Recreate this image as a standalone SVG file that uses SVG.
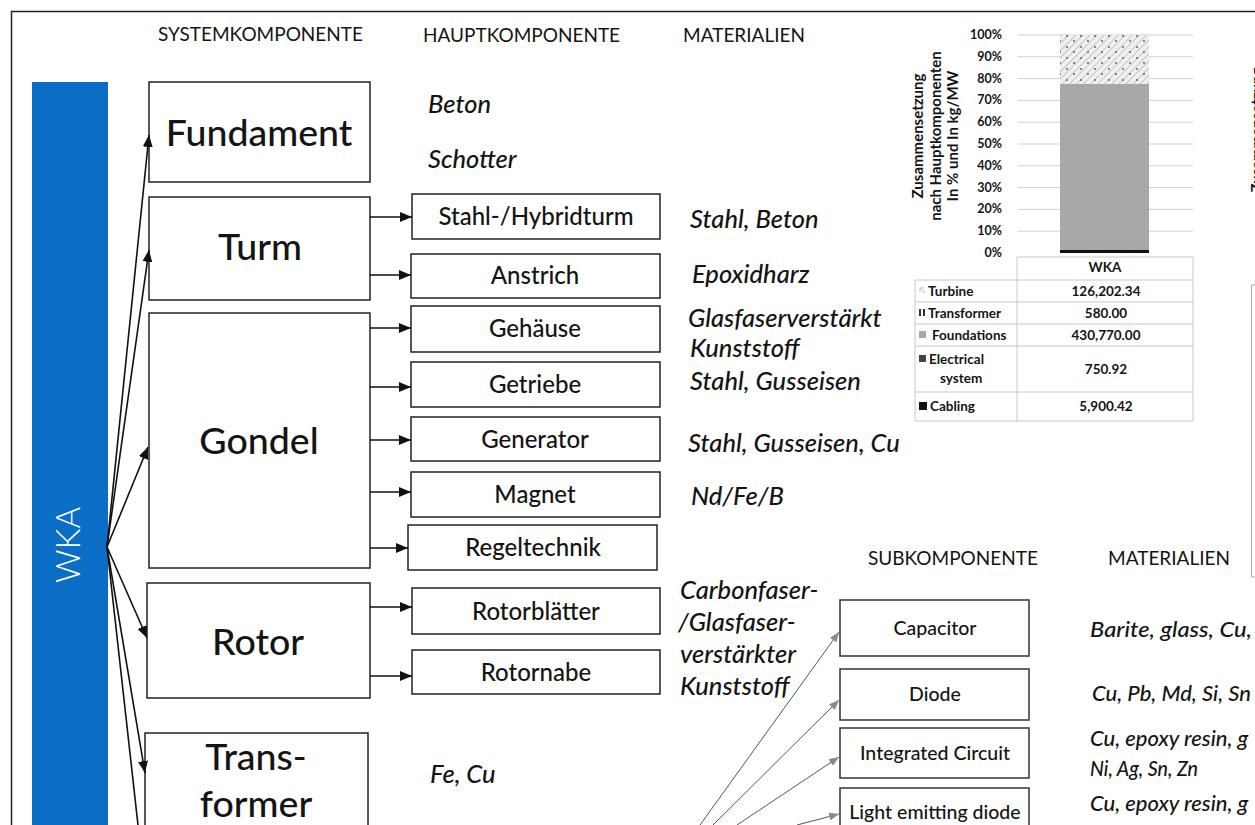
<svg xmlns="http://www.w3.org/2000/svg" width="1255" height="825" viewBox="0 0 1255 825">
<style>
text{font-family:Lato,"Open Sans","Liberation Sans",sans-serif;fill:#141414}
.hdr{font-size:19px}
.sys{font-size:37.5px;font-weight:500;text-anchor:middle}
.hk{font-size:24px;font-weight:500;text-anchor:middle}
.mat{font-size:25.5px;font-weight:500;font-style:italic}
.sub{font-size:19.5px;font-weight:500;text-anchor:middle}
.smat{font-size:22px;font-weight:500;font-style:italic}
.ax{font-size:12.5px;font-weight:700;text-anchor:end}
.tt{font-size:15px;font-weight:700;text-anchor:middle}
.tb{font-size:13.5px;font-weight:700}
.tv{font-size:13.5px;font-weight:700;text-anchor:middle}
.box{fill:#fff;stroke:#222;stroke-width:1.5}
.sbox{fill:#fff;stroke:#333;stroke-width:1.5}
.conn{stroke:#111;stroke-width:1.6;fill:none}
.gconn{stroke:#555;stroke-width:1;fill:none}
.grid{stroke:#cfcfcf;stroke-width:1}
.tbl{stroke:#c8c8c8;stroke-width:1;fill:none}
</style>
<defs>
<marker id="ah" viewBox="0 0 12 10" refX="12" refY="5" markerWidth="12" markerHeight="10" markerUnits="userSpaceOnUse" orient="auto"><path d="M0,0 L12,5 L0,10 z" fill="#111"/></marker>
<marker id="gah" viewBox="0 0 10 8" refX="10" refY="4" markerWidth="10" markerHeight="8" markerUnits="userSpaceOnUse" orient="auto"><path d="M0,0 L10,4 L0,8 z" fill="#8a8a8a"/></marker>
<pattern id="hatch" width="5" height="5" patternUnits="userSpaceOnUse" patternTransform="rotate(45)"><rect width="5" height="5" fill="#f0f0f0"/><line x1="0" y1="0" x2="0" y2="5" stroke="#b5b5b5" stroke-width="1.5"/></pattern>
<pattern id="dots" width="14" height="11" patternUnits="userSpaceOnUse"><circle cx="3" cy="3" r="0.9" fill="#555"/><circle cx="10" cy="8" r="0.9" fill="#555"/></pattern>
</defs>
<rect width="1255" height="825" fill="#fff"/>
<path d="M11.5,825 V11.5 H1255" fill="none" stroke="#222" stroke-width="1.5"/>

<g id="headers">
<text class="hdr" x="158" y="41">SYSTEMKOMPONENTE</text>
<text class="hdr" x="423" y="42">HAUPTKOMPONENTE</text>
<text class="hdr" x="683" y="42">MATERIALIEN</text>
<text class="hdr" x="868" y="565">SUBKOMPONENTE</text>
<text class="hdr" x="1108" y="565">MATERIALIEN</text>
</g>

<g id="wka">
<rect x="32" y="82" width="76" height="743" fill="#0a6ec6"/>
<text transform="translate(80,545) rotate(-90)" style="font-size:33px;font-weight:300;fill:#fff;text-anchor:middle">WKA</text>
</g>

<g id="fundament"><rect class="box" x="149" y="82" width="221" height="100"/><text class="sys" x="259" y="146">Fundament</text></g>
<g id="turm"><rect class="box" x="149" y="197" width="221" height="103"/><text class="sys" x="260" y="260">Turm</text></g>
<g id="gondel"><rect class="box" x="149" y="313" width="221" height="255"/><text class="sys" x="259" y="454">Gondel</text></g>
<g id="rotor"><rect class="box" x="147" y="583" width="223" height="115"/><text class="sys" x="258" y="655">Rotor</text></g>
<g id="transformer"><rect class="box" x="145" y="733" width="223" height="100"/><text class="sys" x="256" y="770">Trans-</text><text class="sys" x="256" y="817">former</text></g>

<g id="stahlturm"><rect class="box" x="412" y="194" width="248" height="45"/><text class="hk" x="536" y="225">Stahl-/Hybridturm</text></g>
<g id="anstrich"><rect class="box" x="411" y="254" width="249" height="44"/><text class="hk" x="535" y="284">Anstrich</text></g>
<g id="gehaeuse"><rect class="box" x="411" y="306" width="249" height="46"/><text class="hk" x="535" y="337">Gehäuse</text></g>
<g id="getriebe"><rect class="box" x="411" y="362" width="249" height="45"/><text class="hk" x="535" y="393">Getriebe</text></g>
<g id="generator"><rect class="box" x="411" y="417" width="249" height="44"/><text class="hk" x="535" y="448">Generator</text></g>
<g id="magnet"><rect class="box" x="411" y="472" width="249" height="45"/><text class="hk" x="535" y="503">Magnet</text></g>
<g id="regeltechnik"><rect class="box" x="408" y="525" width="249" height="45"/><text class="hk" x="533" y="556">Regeltechnik</text></g>
<g id="rotorblaetter"><rect class="box" x="412" y="588" width="248" height="46"/><text class="hk" x="536" y="620">Rotorblätter</text></g>
<g id="rotornabe"><rect class="box" x="412" y="650" width="248" height="44"/><text class="hk" x="536" y="681">Rotornabe</text></g>

<g id="materials">
<text class="mat" x="428" y="113">Beton</text>
<text class="mat" x="428" y="168">Schotter</text>
<text class="mat" x="690" y="228">Stahl, Beton</text>
<text class="mat" x="692" y="283">Epoxidharz</text>
<text class="mat" x="688" y="327">Glasfaserverstärkt</text>
<text class="mat" x="690" y="357">Kunststoff</text>
<text class="mat" x="690" y="390">Stahl, Gusseisen</text>
<text class="mat" x="688" y="452">Stahl, Gusseisen, Cu</text>
<text class="mat" x="691" y="505">Nd/Fe/B</text>
<text class="mat" x="680" y="599">Carbonfaser-</text>
<text class="mat" x="678" y="631">/Glasfaser-</text>
<text class="mat" x="680" y="663">verstärkter</text>
<text class="mat" x="680" y="695">Kunststoff</text>
<text class="mat" x="430" y="783">Fe, Cu</text>
</g>

<g id="capacitor"><rect class="sbox" x="840" y="600" width="189" height="56"/><text class="sub" x="935" y="635">Capacitor</text></g>
<g id="diode"><rect class="sbox" x="840" y="669" width="189" height="51"/><text class="sub" x="935" y="701">Diode</text></g>
<g id="ic"><rect class="sbox" x="840" y="728" width="189" height="50"/><text class="sub" x="935" y="760">Integrated Circuit</text></g>
<g id="led"><rect class="sbox" x="840" y="788" width="189" height="50"/><text class="sub" x="935" y="819">Light emitting diode</text></g>

<g id="submaterials">
<text class="smat" x="1090" y="637" textLength="162" lengthAdjust="spacingAndGlyphs">Barite, glass, Cu,</text>
<text class="smat" x="1092" y="701">Cu, Pb, Md, Si, Sn</text>
<text class="smat" x="1090" y="746">Cu, epoxy resin, g</text>
<text class="smat" x="1090" y="776" textLength="108" lengthAdjust="spacingAndGlyphs">Ni, Ag, Sn, Zn</text>
<text class="smat" x="1090" y="811">Cu, epoxy resin, g</text>
</g>

<g id="chart">
<g class="grid">
<line x1="1018" y1="35" x2="1193" y2="35"/><line x1="1018" y1="56.8" x2="1193" y2="56.8"/><line x1="1018" y1="78.6" x2="1193" y2="78.6"/><line x1="1018" y1="100.4" x2="1193" y2="100.4"/><line x1="1018" y1="122.2" x2="1193" y2="122.2"/><line x1="1018" y1="144" x2="1193" y2="144"/><line x1="1018" y1="165.8" x2="1193" y2="165.8"/><line x1="1018" y1="187.6" x2="1193" y2="187.6"/><line x1="1018" y1="209.4" x2="1193" y2="209.4"/><line x1="1018" y1="231.2" x2="1193" y2="231.2"/>
</g>
<text class="ax" x="1002" y="39">100%</text>
<text class="ax" x="1002" y="61">90%</text>
<text class="ax" x="1002" y="83">80%</text>
<text class="ax" x="1002" y="104">70%</text>
<text class="ax" x="1002" y="126">60%</text>
<text class="ax" x="1002" y="148">50%</text>
<text class="ax" x="1002" y="170">40%</text>
<text class="ax" x="1002" y="192">30%</text>
<text class="ax" x="1002" y="213">20%</text>
<text class="ax" x="1002" y="235">10%</text>
<text class="ax" x="1002" y="257">0%</text>
<rect x="1060" y="35" width="89" height="49" fill="url(#hatch)"/>
<rect x="1060" y="35" width="89" height="49" fill="url(#dots)"/>
<rect x="1060" y="84" width="89" height="166" fill="#a8a8a8"/>
<rect x="1060" y="250" width="89" height="3" fill="#111"/>
<text class="tt" transform="translate(923,136) rotate(-90)">Zusammensetzung</text>
<text class="tt" transform="translate(941,136) rotate(-90)">nach Hauptkomponenten</text>
<text class="tt" transform="translate(958,136) rotate(-90)">In % und In kg/MW</text>
</g>

<g id="table">
<path class="tbl" d="M1017,257 H1193 V421 H915 V280 H1193 M1017,257 V421 M915,302 H1193 M915,324 H1193 M915,346 H1193 M915,392 H1193"/>
<text class="tv" x="1105" y="272">WKA</text>
<rect x="919" y="287" width="6" height="6" fill="url(#hatch)"/>
<text class="tb" x="928" y="296">Turbine</text>
<text class="tv" x="1106" y="296">126,202.34</text>
<rect x="919" y="309" width="2" height="7" fill="#333"/><rect x="923" y="309" width="2" height="7" fill="#333"/>
<text class="tb" x="928" y="318">Transformer</text>
<text class="tv" x="1106" y="318">580.00</text>
<rect x="919" y="331" width="7" height="7" fill="#a8a8a8"/>
<text class="tb" x="932" y="340">Foundations</text>
<text class="tv" x="1106" y="340">430,770.00</text>
<rect x="919" y="355" width="7" height="7" fill="#444"/>
<text class="tb" x="929" y="364">Electrical</text>
<text class="tb" x="940" y="383">system</text>
<text class="tv" x="1106" y="374">750.92</text>
<rect x="919" y="402" width="8" height="8" fill="#111"/>
<text class="tb" x="930" y="411">Cabling</text>
<text class="tv" x="1106" y="411">5,900.42</text>
</g>

<g id="chart2">
<text class="tt" transform="translate(1262,130) rotate(-90)">Zusammensetzung</text>
<path d="M1262,285 H1251.5 V577 H1262" fill="none" stroke="#aaa" stroke-width="1"/>
</g>

<g id="connectors">
<line class="conn" x1="107" y1="547" x2="149" y2="135" marker-end="url(#ah)"/>
<line class="conn" x1="107" y1="547" x2="149" y2="250" marker-end="url(#ah)"/>
<line class="conn" x1="107" y1="547" x2="148" y2="447" marker-end="url(#ah)"/>
<line class="conn" x1="107" y1="547" x2="147" y2="638" marker-end="url(#ah)"/>
<line class="conn" x1="107" y1="547" x2="145" y2="773" marker-end="url(#ah)"/>
<line class="conn" x1="107" y1="547" x2="138" y2="825"/>
<line class="conn" x1="370" y1="217" x2="412" y2="217" marker-end="url(#ah)"/>
<line class="conn" x1="370" y1="275" x2="411" y2="275" marker-end="url(#ah)"/>
<line class="conn" x1="370" y1="328" x2="411" y2="328" marker-end="url(#ah)"/>
<line class="conn" x1="370" y1="387" x2="411" y2="387" marker-end="url(#ah)"/>
<line class="conn" x1="370" y1="440" x2="411" y2="440" marker-end="url(#ah)"/>
<line class="conn" x1="370" y1="492" x2="411" y2="492" marker-end="url(#ah)"/>
<line class="conn" x1="370" y1="548" x2="408" y2="548" marker-end="url(#ah)"/>
<line class="conn" x1="370" y1="607" x2="412" y2="607" marker-end="url(#ah)"/>
<line class="conn" x1="370" y1="676" x2="412" y2="676" marker-end="url(#ah)"/>
<line class="gconn" x1="700" y1="825" x2="839" y2="632" marker-end="url(#gah)"/>
<line class="gconn" x1="713" y1="825" x2="839" y2="700" marker-end="url(#gah)"/>
<line class="gconn" x1="737" y1="825" x2="839" y2="757" marker-end="url(#gah)"/>
<line class="gconn" x1="797" y1="825" x2="839" y2="814" marker-end="url(#gah)"/>
</g>
</svg>
